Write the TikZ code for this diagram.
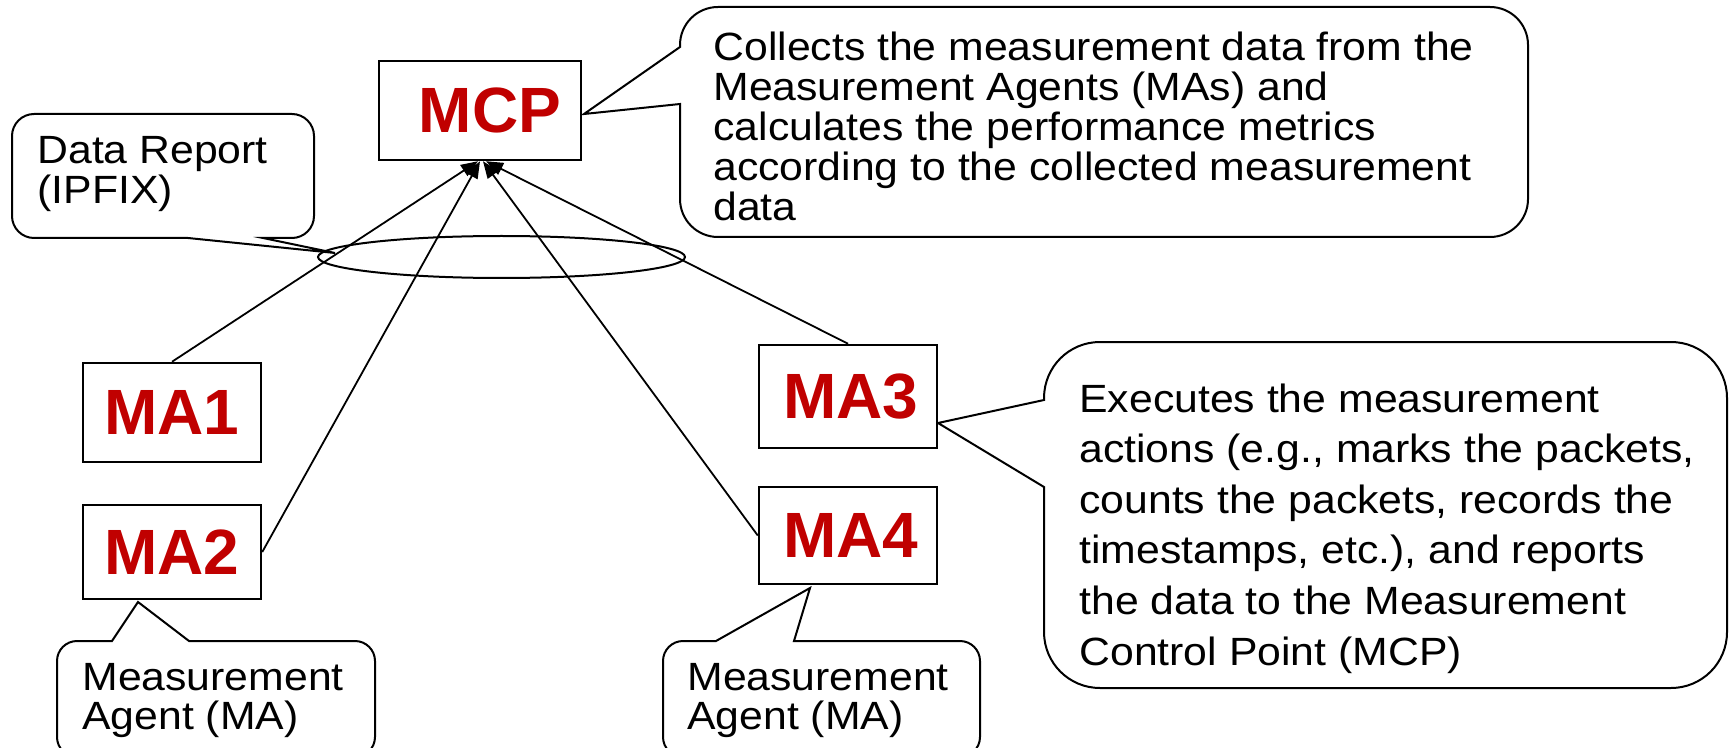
\documentclass[tikz,border=0pt]{standalone}
\usepackage{fontspec}
\setmainfont{Liberation Sans}
\newfontfamily\calloutfont{Liberation Sans}[FakeStretch=1.085]
\usetikzlibrary{arrows.meta,calc}
\definecolor{mared}{HTML}{C00000}
\newcommand{\stacklines}[1]{\vtop{\halign{##\hfil\cr#1\crcr}}}
\tikzset{
  agentbox/.style={draw, line width=1.25pt, fill=white, inner sep=0pt, minimum width=89pt,
    text=mared, font=\fontsize{32pt}{36pt}\selectfont\bfseries},
  callshape/.style={draw, line width=1pt, line join=miter},
  calltext/.style={anchor=base west, inner sep=0pt, text=black},
  link/.style={line width=0.9pt, -{Triangle[length=8.5pt,width=6.5pt]}},
  groupring/.style={line width=1pt},
}
\begin{document}
\begin{tikzpicture}[x=0.5pt, y=-0.5pt]
\useasboundingbox (0,0) rectangle (1732,748);

% pointer tips of the callouts
\coordinate (drtip) at (335,253);
\coordinate (mcptip) at (584,114);
\coordinate (ma3tip) at (938,423);
\coordinate (ma2tip) at (138,602);
\coordinate (ma4tip) at (810,588);

% Data Report callout
\draw[callshape] (263,238) -- (292,238) .. controls (304.1,238) and (314,228.1) .. (314,216)
 -- (314,136) .. controls (314,123.9) and (304.1,114) .. (292,114)
 -- (34,114) .. controls (21.9,114) and (12,123.9) .. (12,136)
 -- (12,216) .. controls (12,228.1) and (21.9,238) .. (34,238)
 -- (188,238) -- (drtip) -- cycle;
\node[calltext, font=\calloutfont\fontsize{19.7pt}{20pt}\selectfont] (drtext) at (37,164)
  {\stacklines{Data Report\cr (IPFIX)}};

% MCP callout
\draw[callshape] (680,104) -- (680,199) .. controls (680,220) and (697,237) .. (718,237)
 -- (1490,237) .. controls (1511,237) and (1528,220) .. (1528,199)
 -- (1528,45) .. controls (1528,24) and (1511,7) .. (1490,7)
 -- (718,7) .. controls (697,7) and (680,24) .. (680,45)
 -- (680,47) -- (mcptip) -- cycle;
\node[calltext, font=\calloutfont\fontsize{19.7pt}{20pt}\selectfont] (mcptext) at (713,61)
  {\stacklines{Collects the measurement data from the\cr
   Measurement Agents (MAs) and\cr
   calculates the performance metrics\cr
   according to the collected measurement\cr
   data}};

% MA3 callout
\draw[callshape] (1044,487) -- (1044,632) .. controls (1044,663) and (1069,688) .. (1100,688)
 -- (1671,688) .. controls (1702,688) and (1727,663) .. (1727,632)
 -- (1727,398) .. controls (1727,367) and (1702,342) .. (1671,342)
 -- (1100,342) .. controls (1069,342) and (1044,367) .. (1044,398)
 -- (1044,400) -- (ma3tip) -- cycle;
\node[calltext, font=\calloutfont\fontsize{19.7pt}{25.3pt}\selectfont] (ma3text) at (1079,412)
  {\stacklines{Executes the measurement\cr
   actions (e.g., marks the packets,\cr
   counts the packets, records the\cr
   timestamps, etc.), and reports\cr
   the data to the Measurement\cr
   Control Point (MCP)}};

% MA2 callout
\draw[callshape] (189,641) -- (355,641) .. controls (366,641) and (375,650) .. (375,661)
 -- (375,737) .. controls (375,748) and (366,757) .. (355,757)
 -- (77,757) .. controls (66,757) and (57,748) .. (57,737)
 -- (57,661) .. controls (57,650) and (66,641) .. (77,641)
 -- (112,641) -- (ma2tip) -- cycle;
\node[calltext, font=\calloutfont\fontsize{19.7pt}{19.5pt}\selectfont] (ma2text) at (82,690)
  {\stacklines{Measurement\cr Agent (MA)}};

% MA4 callout
\draw[callshape] (794,641) -- (960,641) .. controls (971,641) and (980,650) .. (980,661)
 -- (980,737) .. controls (980,748) and (971,757) .. (960,757)
 -- (683,757) .. controls (672,757) and (663,748) .. (663,737)
 -- (663,661) .. controls (663,650) and (672,641) .. (683,641)
 -- (716,641) -- (ma4tip) -- cycle;
\node[calltext, font=\calloutfont\fontsize{19.7pt}{19.5pt}\selectfont] (ma4text) at (687,690)
  {\stacklines{Measurement\cr Agent (MA)}};

% group ellipse
\coordinate (grp) at (501.5,257);
\draw[groupring] (grp) ellipse [x radius=183.5, y radius=21];

% boxes
\node[agentbox, minimum width=101pt, minimum height=49.5pt] (mcp) at (480,110.5) {\hspace*{10pt}MCP};
\node[agentbox, minimum height=49.5pt] (ma1) at (172,412.5) {MA1};
\node[agentbox, minimum height=47pt] (ma2) at (172,552) {\raisebox{-2pt}{MA2}};
\node[agentbox, minimum height=51.5pt] (ma3) at (848,396.5) {\hspace*{3pt}MA3};
\node[agentbox, minimum height=48.5pt] (ma4) at (848,535.5) {\hspace*{3pt}MA4};

% connectors
\draw[link] (ma1.north) -- ($(mcp.south)+(-2,0)$);
\draw[link] (ma2.east) -- ($(mcp.south)+(0,0)$);
\draw[link] (ma4.west) -- ($(mcp.south)+(3,0)$);
\draw[link] (ma3.north) -- ($(mcp.south)+(6,0)$);
\end{tikzpicture}
\end{document}
